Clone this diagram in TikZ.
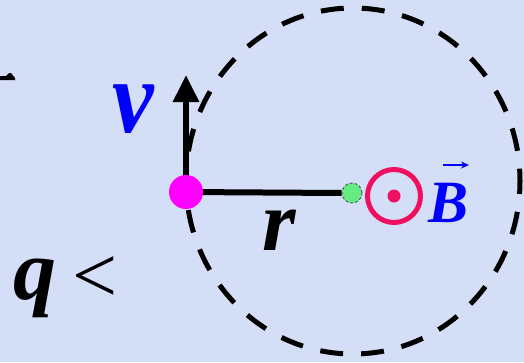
\documentclass[tikz,border=0pt]{standalone}
\usepackage{fontspec}
\newfontfamily\lib{Liberation Serif}
\usetikzlibrary{arrows.meta}
\definecolor{bg}{RGB}{212,222,247}
\definecolor{crim}{RGB}{240,16,96}
\definecolor{grn}{RGB}{100,236,130}
\definecolor{vblue}{RGB}{0,0,255}
\definecolor{mag}{RGB}{255,0,255}
\tikzset{
  lbl/.style={inner sep=0pt,anchor=base},
}
\begin{document}
\begin{tikzpicture}[x=1pt,y=-1pt]
\fill[bg] (0,0) rectangle (524,362);
\useasboundingbox (0,0) rectangle (524,362);
% dashed orbit
\draw[line width=5pt,dash pattern=on 23pt off 18pt,dash phase=10pt] (353,181) ellipse [x radius=167,y radius=173];
% centre and charge
\node (cen) [circle,fill=grn,draw=black!70,densely dashed,line width=0.8pt,minimum size=20pt,inner sep=0pt] at (352,193) {};
\draw[line width=6pt] (186,192) -- (cen.west);
\coordinate (vtip) at (186,75);
\draw[line width=6pt,-{Triangle[length=27pt,width=25pt]}] (186,192) -- (vtip);
\node (qdot) [circle,fill=mag,minimum size=34pt,inner sep=0pt] at (186,192) {};
% B out of page
\node (bsym) [circle,draw=crim,line width=5pt,minimum size=53pt,inner sep=0pt] at (394,196) {};
\fill[crim] (bsym.center) circle (6.5pt);
% labels
\node (vl) [lbl,text=vblue,xscale=0.9,font=\lib\fontsize{104}{104}\selectfont\bfseries\itshape] at (133,132) {v};
\node (rl) [lbl,font=\lib\fontsize{86}{86}\selectfont\bfseries\itshape] at (279,250) {r};
\node (ql) [lbl,font=\lib\fontsize{86}{86}\selectfont\bfseries\itshape] at (35,299) {q};
\node (lt) [inner sep=0pt,font=\lib\fontsize{80}{80}\selectfont] at (95,280) {<};
\node (bl) [lbl,text=vblue,font=\lib\fontsize{60}{60}\selectfont\bfseries\itshape] at (449,222) {B};
\draw[vblue,line width=1.8pt,-{Stealth[length=8pt,width=7pt]}] (443,165) -- (469,165);
% fragment at left edge
\fill (0,76) -- (6,76) -- (9,73) -- (11,73) -- (15,78) -- (15,80) -- (0,80) -- cycle;
\end{tikzpicture}
\end{document}
